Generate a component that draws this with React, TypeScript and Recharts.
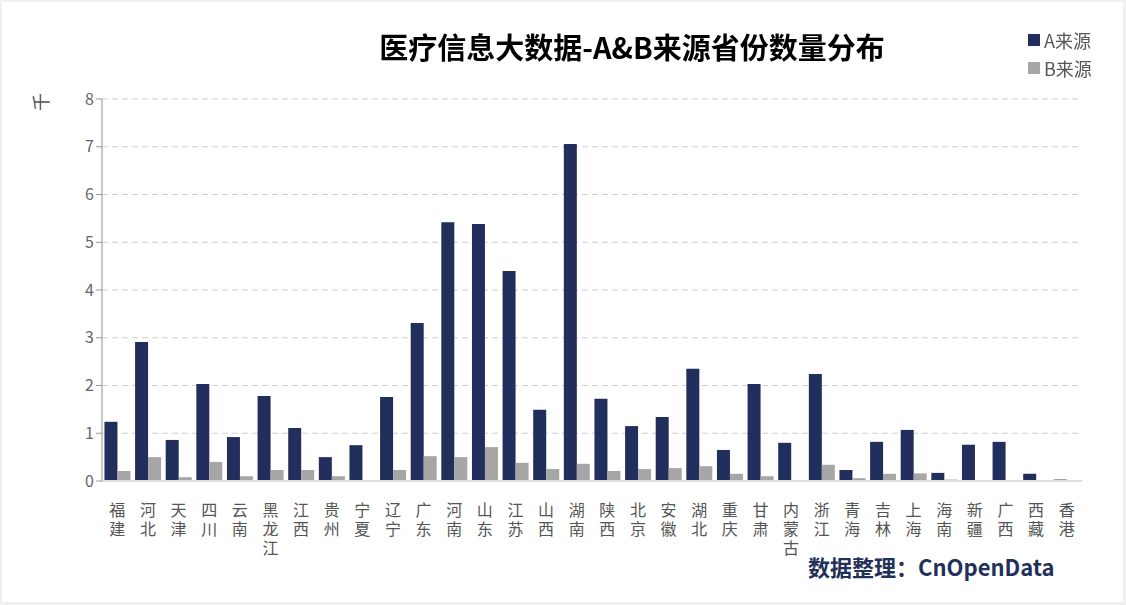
import { BarChart, Bar, XAxis, YAxis, CartesianGrid, Label } from 'recharts'

const provinces = [
  '福建', '河北', '天津', '四川', '云南', '黑龙江', '江西', '贵州', '宁夏', '辽宁', '广东',
  '河南', '山东', '江苏', '山西', '湖南', '陕西', '北京', '安徽', '湖北', '重庆', '甘肃',
  '内蒙古', '浙江', '青海', '吉林', '上海', '海南', '新疆', '广西', '西藏', '香港',
]

// 单位：千
const sourceA = [
  1.24, 2.91, 0.86, 2.03, 0.92, 1.78, 1.11, 0.5, 0.75, 1.76, 3.31,
  5.42, 5.38, 4.4, 1.49, 7.06, 1.72, 1.15, 1.34, 2.35, 0.65, 2.03,
  0.8, 2.24, 0.23, 0.82, 1.07, 0.17, 0.76, 0.82, 0.15, 0.03,
]
const sourceB = [
  0.21, 0.5, 0.08, 0.4, 0.1, 0.23, 0.23, 0.1, 0, 0.23, 0.52,
  0.5, 0.71, 0.38, 0.25, 0.36, 0.21, 0.25, 0.27, 0.31, 0.15, 0.1,
  0, 0.34, 0.06, 0.15, 0.16, 0.03, 0, 0, 0, 0,
]
const yTicks = [0, 1, 2, 3, 4, 5, 6, 7, 8]

const COLOR_A = '#222e5c'
const COLOR_B = '#a6a6a6'

const data = provinces.map((name, i) => ({ name, a: sourceA[i], b: sourceB[i] }))

// 省份名竖排
function VerticalTick({ x, y, payload }: any) {
  return (
    <text
      x={x}
      y={y + 13}
      fill="#555"
      fontSize={16}
      letterSpacing={3}
      style={{ writingMode: 'vertical-rl' }}
    >
      {payload.value}
    </text>
  )
}

const font = '"Noto Sans CJK SC", "Noto Sans", sans-serif'

export default function App() {
  return (
    <div
      style={{
        position: 'fixed',
        left: 0,
        top: 0,
        width: 1126,
        height: 605,
        background: '#f0f0f0',
        fontFamily: font,
      }}
    >
      <div
        style={{
          position: 'absolute',
          left: 2,
          top: 2,
          width: 1121,
          height: 600,
          background: '#fff',
        }}
      />
      <div style={{ position: 'absolute', left: 0, top: 0 }}>
        <BarChart
          width={1126}
          height={605}
          data={data}
          margin={{ top: 99, right: 44, bottom: 44, left: 40 }}
          barGap={0}
          barCategoryGap="8%"
        >
          <CartesianGrid vertical={false} stroke="#cfcfcf" strokeDasharray="6 4" />
          <XAxis
            dataKey="name"
            interval={0}
            height={80}
            tick={<VerticalTick />}
            tickLine={false}
            axisLine={{ stroke: '#dcdcdc', strokeWidth: 2 }}
          />
          <YAxis
            width={62}
            domain={[0, 8]}
            ticks={yTicks}
            tick={{ fill: '#666', fontSize: 16 }}
            tickLine={{ stroke: '#999' }}
            tickSize={6}
            axisLine={{ stroke: '#c8c8c8', strokeWidth: 2 }}
          >
            <Label value="千" angle={-90} position="insideTopLeft" offset={0} dx={-5} dy={12} fill="#555" fontSize={18} />
          </YAxis>
          <Bar dataKey="a" name="A来源" fill={COLOR_A} isAnimationActive={false} />
          <Bar dataKey="b" name="B来源" fill={COLOR_B} isAnimationActive={false} />
        </BarChart>
      </div>
      <div
        style={{
          position: 'absolute',
          left: 0,
          width: 1264,
          top: 26,
          textAlign: 'center',
          fontSize: 29,
          fontWeight: 700,
          color: '#000',
          lineHeight: '40px',
        }}
      >
        医疗信息大数据-A&B来源省份数量分布
      </div>
      <div style={{ position: 'absolute', left: 1028, top: 26, fontSize: 18, color: '#555', lineHeight: '28px' }}>
        {[
          { label: 'A来源', color: COLOR_A },
          { label: 'B来源', color: COLOR_B },
        ].map((item) => (
          <div key={item.label} style={{ display: 'flex', alignItems: 'center' }}>
            <span style={{ width: 12, height: 12, background: item.color, marginRight: 4, display: 'inline-block' }} />
            {item.label}
          </div>
        ))}
      </div>
      <div
        style={{
          position: 'absolute',
          left: 808,
          top: 551,
          fontSize: 22,
          fontWeight: 700,
          color: '#22305a',
          lineHeight: '30px',
        }}
      >
        数据整理：CnOpenData
      </div>
    </div>
  )
}
